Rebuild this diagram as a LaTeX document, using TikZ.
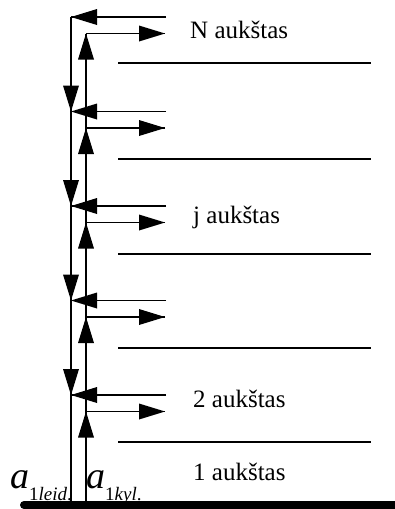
\documentclass[tikz,border=0pt]{standalone}
\usepackage{fontspec}
\setmainfont{Liberation Serif}
\begin{document}
\begin{tikzpicture}[x=1pt,y=1pt,
  shaft/.style={line width=1.6pt},
  floorline/.style={line width=2pt},
  headL/.style={fill=black},
  floorlabel/.style={anchor=base west, inner sep=0pt, font=\fontsize{25}{25}\selectfont},
  flowlabel/.style={anchor=base west, inner sep=0pt}]
\useasboundingbox (0,0) rectangle (395,-509);

% the two vertical shafts: down (left) and up (right)
\coordinate (Ltop) at (71,-17);
\coordinate (Lbot) at (71,-505);
\coordinate (Rtop) at (86,-33.5);
\coordinate (Rbot) at (86,-505);
\draw[shaft] (Ltop) -- (Lbot);
\draw[shaft] (Rtop) -- (Rbot);

% flows at every floor: incoming to the left shaft, outgoing from the right one
\foreach \i/\y in {1/17, 2/111.5, 3/206, 4/300.5, 5/395} {
  \coordinate (L\i) at (71,-\y);
  \coordinate (Lin\i) at (166,-\y);
  \coordinate (R\i) at (86,-\y-16.5);
  \coordinate (Rout\i) at (165,-\y-16.5);
  \draw[shaft] (Lin\i) -- (L\i);
  \draw[shaft] (R\i) -- (Rout\i);
  % arrowheads: left-pointing, right-pointing, upward
  \fill[headL,shift={(L\i)}] (0,0) -- (26,8) -- (26,-8) -- cycle;
  \fill[headL,shift={(Rout\i)}] (0,0) -- (-26,8) -- (-26,-8) -- cycle;
  \fill[headL,shift={(R\i)}] (0,0) -- (-8,-26) -- (8,-26) -- cycle;
}
% downward heads on the left shaft
\foreach \i in {2,3,4,5} {
  \fill[headL,shift={(L\i)}] (0,0) -- (-8,26) -- (8,26) -- cycle;
}

% floor slabs
\foreach \i/\y in {1/63, 2/158.5, 3/254, 4/348, 5/442} {
  \coordinate (Fa\i) at (118,-\y);
  \coordinate (Fb\i) at (371,-\y);
  \draw[floorline] (Fa\i) -- (Fb\i);
}

% ground
\coordinate (G1) at (24,-505);
\coordinate (G2) at (410,-505);
\draw[line width=8pt, line cap=round] (G1) -- (G2);

% floor names
\node[floorlabel] (fN) at (190,-38) {N aukštas};
\node[floorlabel] (fj) at (193,-223) {j aukštas};
\node[floorlabel] (f2) at (193,-407) {2 aukštas};
\node[floorlabel] (f1) at (193,-480) {1 aukštas};

% flow symbols
\node[flowlabel] (aleid) at (10,-488) {{\fontsize{38}{38}\selectfont\itshape a}\raisebox{-12pt}{\fontsize{19}{19}\selectfont 1\textit{leid}.}};
\node[flowlabel] (akyl) at (86,-488) {{\fontsize{38}{38}\selectfont\itshape a}\raisebox{-12pt}{\fontsize{19}{19}\selectfont 1\textit{kyl}.}};
\end{tikzpicture}
\end{document}
